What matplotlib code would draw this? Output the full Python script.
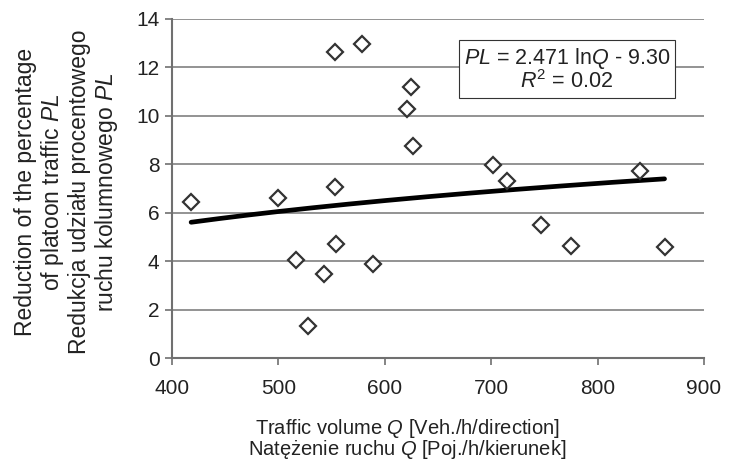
import numpy as np
import matplotlib
matplotlib.use("Agg")
import matplotlib.pyplot as plt

plt.rcParams['font.family'] = ['Liberation Sans', 'DejaVu Sans']
plt.rcParams['mathtext.fontset'] = 'custom'
plt.rcParams['mathtext.rm'] = 'Liberation Sans'
plt.rcParams['mathtext.it'] = 'Liberation Sans:italic'

# Data
Q = [418, 500, 553, 517, 554, 543, 589, 528, 553, 579, 625, 621, 627,
     702, 715, 840, 747, 775, 863]
PL = [6.47, 6.61, 7.07, 4.06, 4.71, 3.48, 3.90, 1.33, 12.64, 12.95, 11.20,
      10.30, 8.77, 7.99, 7.30, 7.74, 5.48, 4.65, 4.61]
coef_a = 2.471
coef_b = -9.30
r2 = 0.02
xticks = [400, 500, 600, 700, 800, 900]
yticks = [0, 2, 4, 6, 8, 10, 12, 14]

fig = plt.figure(figsize=(7.34, 4.69), dpi=100)
ax = fig.add_axes([0.2343, 0.236, 0.7247, 0.7235])

ax.set_xlim(400, 900)
ax.set_ylim(0, 14)
ax.set_xticks(xticks)
ax.set_yticks(yticks)
ax.yaxis.grid(True, color='#808080', lw=1.2)
ax.set_axisbelow(True)

xs = np.linspace(min(Q), max(Q), 200)
ax.plot(xs, coef_a * np.log(xs) + coef_b, color='black', lw=3.4,
        solid_capstyle='round', zorder=3)
ax.plot(Q, PL, linestyle='none', marker='D', markersize=8.5,
        markerfacecolor='white', markeredgecolor='#333333', markeredgewidth=1.6,
        zorder=4)

for s in ['top', 'right']:
    ax.spines[s].set_visible(False)
for s in ['left', 'bottom']:
    ax.spines[s].set_color('#707070')
    ax.spines[s].set_linewidth(1.5)
ax.tick_params(axis='both', colors='#707070', length=5, width=1.2,
               labelsize=15, labelcolor='#222222')
ax.tick_params(axis='y', pad=4)
ax.tick_params(axis='x', pad=10)

ax.text(0.742, 0.85, "$PL$ = 2.471 ln$Q$ - 9.30\n$R^2$ = %.2f" % r2,
        transform=ax.transAxes, ha='center', va='center', fontsize=15.5,
        linespacing=0.95, color='#222222',
        bbox=dict(boxstyle='square,pad=0.22', facecolor='white',
                  edgecolor='#333333', linewidth=0.8), zorder=5)

ylab = ["Reduction of the percentage", "of platoon traffic $PL$",
        "Redukcja udziału procentowego", "ruchu kolumnowego $PL$"]
ylab_base = [32, 59.5, 86.5, 113]
for t, bx in zip(ylab, ylab_base):
    fig.text(bx / 734, 1 - 192 / 469, t, rotation=90, rotation_mode='anchor',
             ha='center', va='baseline', fontsize=16.5, color='#222222')

fig.text(407 / 734, 1 - 433.5 / 469, "Traffic volume $Q$ [Veh./h/direction]",
         ha='center', va='baseline', fontsize=14.5, color='#222222')
fig.text(407 / 734, 1 - 455 / 469, "Natężenie ruchu $Q$ [Poj./h/kierunek]",
         ha='center', va='baseline', fontsize=14.5, color='#222222')

fig.savefig("out.png", dpi=100)
